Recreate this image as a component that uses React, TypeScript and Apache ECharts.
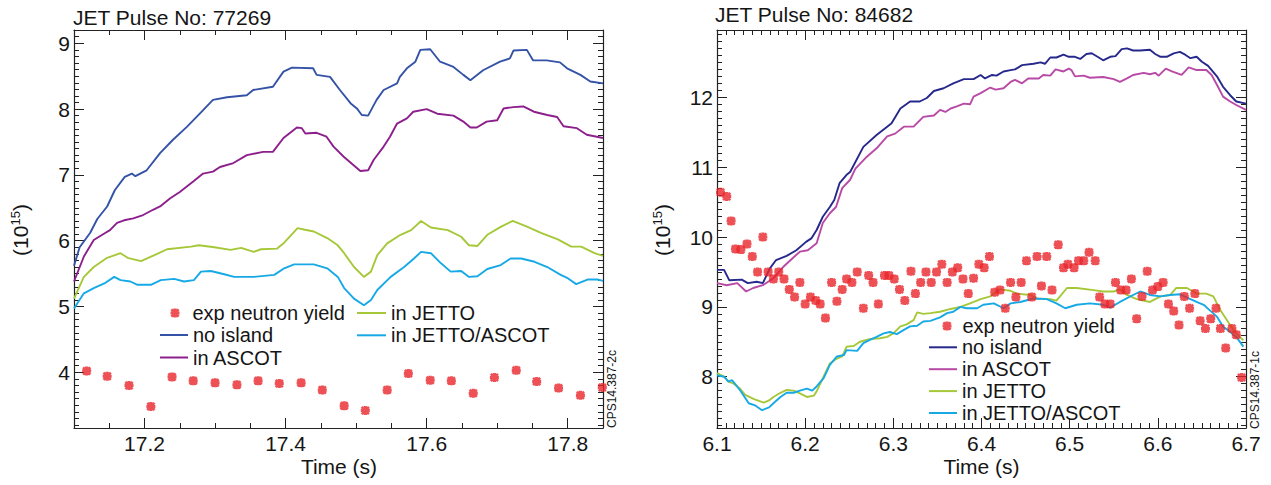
import React, { useEffect, useRef } from "react";
import * as echarts from "echarts";

const FONT = '"Liberation Sans", Arial, Helvetica, sans-serif';

// ---------- JET Pulse No: 77269 (left) ----------
const leftTitle = "JET Pulse No: 77269";
const leftXMajor = [17.2, 17.4, 17.6, 17.8];
const leftYMajor = [4, 5, 6, 7, 8, 9];

const leftExp: [number, number][] = [
  [17.118, 4.02], [17.147, 3.94], [17.178, 3.8], [17.209, 3.48], [17.239, 3.93], [17.269, 3.87],
  [17.3, 3.84], [17.331, 3.81], [17.361, 3.87], [17.391, 3.83], [17.422, 3.84], [17.452, 3.73],
  [17.483, 3.49], [17.513, 3.42], [17.544, 3.73], [17.574, 3.98], [17.605, 3.88], [17.635, 3.87],
  [17.666, 3.68], [17.696, 3.92], [17.727, 4.03], [17.756, 3.86], [17.787, 3.76], [17.818, 3.65],
  [17.849, 3.77],
];

const leftNoIsland: [number, number][] = [
  [17.1, 5.62], [17.108, 5.9], [17.123, 6.12], [17.133, 6.33], [17.147, 6.52], [17.158, 6.77],
  [17.172, 6.97], [17.182, 7.02], [17.187, 6.98], [17.203, 7.07], [17.222, 7.33], [17.24, 7.53],
  [17.26, 7.73], [17.279, 7.94], [17.297, 8.14], [17.317, 8.18], [17.345, 8.21], [17.354, 8.29],
  [17.382, 8.34], [17.397, 8.57], [17.409, 8.63], [17.439, 8.62], [17.444, 8.52], [17.463, 8.49],
  [17.477, 8.29], [17.492, 8.09], [17.501, 8.01], [17.508, 7.91], [17.517, 7.9], [17.529, 8.14],
  [17.539, 8.29], [17.558, 8.39], [17.562, 8.49], [17.572, 8.62], [17.584, 8.72], [17.591, 8.9],
  [17.605, 8.91], [17.619, 8.72], [17.638, 8.64], [17.652, 8.52], [17.662, 8.44], [17.68, 8.59],
  [17.704, 8.72], [17.718, 8.77], [17.723, 8.89], [17.742, 8.9], [17.751, 8.74], [17.77, 8.74],
  [17.789, 8.71], [17.799, 8.62], [17.818, 8.52], [17.832, 8.42], [17.85, 8.39],
];

const leftAscot: [number, number][] = [
  [17.1, 5.38], [17.114, 5.76], [17.128, 6.01], [17.143, 6.11], [17.151, 6.16], [17.161, 6.27],
  [17.171, 6.31], [17.184, 6.34], [17.198, 6.39], [17.212, 6.47], [17.222, 6.52], [17.236, 6.64],
  [17.25, 6.74], [17.269, 6.9], [17.283, 7.02], [17.297, 7.05], [17.307, 7.12], [17.326, 7.18],
  [17.345, 7.3], [17.368, 7.35], [17.382, 7.35], [17.397, 7.56], [17.411, 7.68], [17.416, 7.72],
  [17.423, 7.71], [17.428, 7.63], [17.444, 7.64], [17.458, 7.58], [17.468, 7.43], [17.482, 7.28],
  [17.496, 7.15], [17.506, 7.06], [17.517, 7.07], [17.525, 7.23], [17.539, 7.43], [17.548, 7.58],
  [17.558, 7.78], [17.572, 7.86], [17.581, 7.96], [17.6, 8.0], [17.615, 7.93], [17.638, 7.9],
  [17.652, 7.81], [17.662, 7.72], [17.671, 7.72], [17.685, 7.81], [17.7, 7.83], [17.709, 8.01],
  [17.723, 8.03], [17.737, 8.04], [17.752, 7.96], [17.771, 7.91], [17.785, 7.88], [17.794, 7.74],
  [17.813, 7.71], [17.827, 7.61], [17.85, 7.56],
];

const leftJetto: [number, number][] = [
  [17.1, 5.12], [17.114, 5.45], [17.128, 5.6], [17.147, 5.74], [17.166, 5.81], [17.176, 5.74],
  [17.195, 5.69], [17.214, 5.78], [17.232, 5.87], [17.266, 5.91], [17.277, 5.93], [17.299, 5.9],
  [17.322, 5.86], [17.337, 5.89], [17.355, 5.83], [17.365, 5.87], [17.388, 5.88], [17.398, 5.97],
  [17.417, 6.19], [17.426, 6.17], [17.44, 6.14], [17.459, 6.04], [17.474, 5.93], [17.483, 5.81],
  [17.497, 5.6], [17.511, 5.45], [17.521, 5.53], [17.53, 5.78], [17.544, 5.96], [17.563, 6.09],
  [17.578, 6.16], [17.592, 6.3], [17.606, 6.2], [17.63, 6.16], [17.649, 6.06], [17.66, 5.93],
  [17.672, 5.92], [17.686, 6.09], [17.705, 6.21], [17.722, 6.3], [17.743, 6.21], [17.762, 6.12],
  [17.786, 6.02], [17.805, 5.91], [17.819, 5.91], [17.838, 5.81], [17.85, 5.77],
];

const leftJettoAscot: [number, number][] = [
  [17.1, 4.97], [17.114, 5.2], [17.128, 5.28], [17.143, 5.35], [17.157, 5.45], [17.166, 5.4],
  [17.18, 5.38], [17.19, 5.33], [17.209, 5.33], [17.223, 5.4], [17.242, 5.42], [17.256, 5.38],
  [17.27, 5.4], [17.28, 5.53], [17.294, 5.54], [17.313, 5.49], [17.327, 5.45], [17.355, 5.45],
  [17.384, 5.48], [17.398, 5.58], [17.412, 5.64], [17.44, 5.64], [17.459, 5.58], [17.474, 5.45],
  [17.483, 5.28], [17.497, 5.12], [17.511, 5.02], [17.521, 5.1], [17.53, 5.25], [17.549, 5.45],
  [17.568, 5.6], [17.582, 5.73], [17.592, 5.83], [17.606, 5.81], [17.62, 5.66], [17.634, 5.53],
  [17.649, 5.54], [17.66, 5.45], [17.672, 5.46], [17.686, 5.57], [17.705, 5.63], [17.719, 5.73],
  [17.734, 5.73], [17.753, 5.68], [17.771, 5.6], [17.79, 5.48], [17.8, 5.43], [17.812, 5.34],
  [17.828, 5.41], [17.842, 5.41], [17.85, 5.39],
];

// ---------- JET Pulse No: 84682 (right) ----------
const rightTitle = "JET Pulse No: 84682";
const rightXMajor = [6.1, 6.2, 6.3, 6.4, 6.5, 6.6, 6.7];
const rightYMajor = [8, 9, 10, 11, 12];

const rightExp: [number, number][] = [
  [6.104, 10.64], [6.111, 10.58], [6.116, 10.23], [6.121, 9.83], [6.127, 9.82], [6.134, 9.9],
  [6.14, 9.72], [6.146, 9.5], [6.152, 10.0], [6.158, 9.5], [6.164, 9.4], [6.17, 9.5],
  [6.176, 9.4], [6.182, 9.25], [6.188, 9.14], [6.194, 9.35], [6.2, 9.04], [6.206, 9.14],
  [6.212, 9.09], [6.217, 9.04], [6.223, 8.84], [6.23, 9.35], [6.236, 9.08], [6.242, 9.25],
  [6.247, 9.4], [6.253, 9.35], [6.259, 9.5], [6.266, 8.98], [6.272, 9.45], [6.277, 9.35],
  [6.283, 9.04], [6.29, 9.45], [6.295, 9.45], [6.301, 9.4], [6.307, 9.25], [6.313, 9.09],
  [6.32, 9.51], [6.325, 9.19], [6.331, 9.35], [6.337, 9.5], [6.343, 9.35], [6.349, 9.5],
  [6.355, 9.61], [6.361, 9.35], [6.367, 9.5], [6.373, 9.56], [6.379, 9.4], [6.385, 9.19],
  [6.391, 9.41], [6.397, 9.61], [6.403, 9.56], [6.409, 9.72], [6.415, 9.21], [6.421, 9.24],
  [6.427, 8.98], [6.433, 9.35], [6.439, 9.14], [6.445, 9.35], [6.451, 9.66], [6.457, 9.14],
  [6.463, 9.72], [6.468, 9.3], [6.474, 9.72], [6.48, 9.24], [6.487, 9.89], [6.493, 9.56],
  [6.498, 9.61], [6.505, 9.56], [6.51, 9.66], [6.516, 9.66], [6.522, 9.78], [6.529, 9.66],
  [6.534, 9.14], [6.54, 9.04], [6.546, 9.04], [6.552, 9.35], [6.558, 9.24], [6.564, 9.24],
  [6.57, 9.4], [6.576, 8.83], [6.582, 9.15], [6.588, 9.51], [6.594, 9.24], [6.6, 9.29],
  [6.606, 9.35], [6.612, 9.04], [6.618, 8.94], [6.624, 8.74], [6.63, 9.15], [6.636, 8.98],
  [6.642, 9.19], [6.648, 8.8], [6.654, 8.69], [6.66, 8.83], [6.666, 8.98], [6.671, 8.69],
  [6.677, 8.41], [6.684, 8.69], [6.689, 8.6], [6.695, 7.99],
];

const rightNoIsland: [number, number][] = [
  [6.1, 9.53], [6.108, 9.53], [6.114, 9.38], [6.128, 9.39], [6.135, 9.34], [6.145, 9.36],
  [6.152, 9.34], [6.16, 9.55], [6.167, 9.67], [6.179, 9.73], [6.19, 9.81], [6.201, 9.93],
  [6.207, 9.98], [6.213, 10.1], [6.22, 10.29], [6.228, 10.43], [6.233, 10.53], [6.239, 10.77],
  [6.247, 10.89], [6.251, 10.93], [6.266, 11.29], [6.281, 11.46], [6.293, 11.58], [6.298, 11.63],
  [6.308, 11.84], [6.319, 11.94], [6.33, 11.94], [6.338, 11.99], [6.346, 12.09], [6.357, 12.13],
  [6.368, 12.2], [6.38, 12.26], [6.391, 12.26], [6.399, 12.32], [6.404, 12.27], [6.412, 12.32],
  [6.417, 12.31], [6.425, 12.37], [6.433, 12.39], [6.438, 12.4], [6.446, 12.46], [6.459, 12.48],
  [6.467, 12.5], [6.472, 12.48], [6.478, 12.57], [6.485, 12.57], [6.493, 12.61], [6.499, 12.58],
  [6.506, 12.58], [6.512, 12.55], [6.519, 12.62], [6.525, 12.63], [6.533, 12.57], [6.538, 12.53],
  [6.546, 12.58], [6.552, 12.59], [6.559, 12.69], [6.565, 12.7], [6.572, 12.67], [6.58, 12.67],
  [6.591, 12.68], [6.597, 12.62], [6.603, 12.58], [6.61, 12.58], [6.618, 12.63], [6.625, 12.65],
  [6.631, 12.61], [6.637, 12.56], [6.644, 12.58], [6.65, 12.51], [6.657, 12.45], [6.667, 12.3],
  [6.674, 12.15], [6.682, 12.03], [6.689, 11.94], [6.7, 11.91],
];

const rightAscot: [number, number][] = [
  [6.1, 9.34], [6.111, 9.31], [6.123, 9.34], [6.133, 9.22], [6.141, 9.27], [6.152, 9.31],
  [6.164, 9.41], [6.175, 9.57], [6.186, 9.7], [6.194, 9.79], [6.203, 9.81], [6.213, 9.91],
  [6.22, 10.2], [6.228, 10.34], [6.235, 10.43], [6.242, 10.7], [6.251, 10.82], [6.257, 10.98],
  [6.27, 11.15], [6.281, 11.27], [6.293, 11.44], [6.302, 11.48], [6.312, 11.58], [6.323, 11.58],
  [6.334, 11.72], [6.346, 11.74], [6.353, 11.82], [6.359, 11.79], [6.365, 11.84], [6.372, 11.87],
  [6.38, 11.91], [6.387, 11.9], [6.391, 12.01], [6.399, 12.06], [6.41, 12.14], [6.416, 12.11],
  [6.425, 12.13], [6.433, 12.22], [6.438, 12.25], [6.446, 12.2], [6.453, 12.27], [6.465, 12.27],
  [6.47, 12.32], [6.478, 12.31], [6.484, 12.4], [6.493, 12.37], [6.499, 12.41], [6.502, 12.39],
  [6.506, 12.3], [6.516, 12.31], [6.523, 12.28], [6.538, 12.29], [6.55, 12.26], [6.557, 12.22],
  [6.565, 12.27], [6.572, 12.32], [6.584, 12.35], [6.591, 12.33], [6.597, 12.35], [6.601, 12.31],
  [6.609, 12.41], [6.616, 12.37], [6.627, 12.32], [6.635, 12.43], [6.644, 12.39], [6.655, 12.39],
  [6.661, 12.32], [6.667, 12.18], [6.674, 12.01], [6.682, 11.94], [6.689, 11.89], [6.7, 11.82],
];

const rightJetto: [number, number][] = [
  [6.1, 8.05], [6.108, 8.0], [6.113, 7.93], [6.119, 7.9], [6.126, 7.83], [6.132, 7.74],
  [6.142, 7.68], [6.153, 7.63], [6.159, 7.66], [6.164, 7.71], [6.172, 7.77], [6.179, 7.81],
  [6.187, 7.8], [6.194, 7.76], [6.202, 7.71], [6.21, 7.73], [6.213, 7.79], [6.219, 7.95],
  [6.228, 8.19], [6.236, 8.26], [6.242, 8.29], [6.247, 8.43], [6.255, 8.44], [6.262, 8.5],
  [6.274, 8.54], [6.285, 8.55], [6.293, 8.57], [6.3, 8.62], [6.308, 8.72], [6.315, 8.75],
  [6.323, 8.81], [6.327, 8.92], [6.334, 8.9], [6.342, 8.91], [6.353, 8.93], [6.365, 8.97],
  [6.376, 9.0], [6.387, 9.05], [6.399, 9.11], [6.41, 9.15], [6.421, 9.25], [6.433, 9.23],
  [6.44, 9.19], [6.455, 9.17], [6.463, 9.12], [6.478, 9.11], [6.485, 9.09], [6.497, 9.27],
  [6.508, 9.27], [6.527, 9.24], [6.538, 9.22], [6.55, 9.22], [6.557, 9.25], [6.565, 9.17],
  [6.576, 9.11], [6.591, 9.07], [6.603, 9.15], [6.614, 9.17], [6.621, 9.27], [6.633, 9.27],
  [6.64, 9.22], [6.644, 9.19], [6.655, 9.19], [6.663, 9.15], [6.671, 8.95], [6.682, 8.74],
  [6.689, 8.62], [6.697, 8.52],
];

const rightJettoAscot: [number, number][] = [
  [6.1, 8.02], [6.108, 8.0], [6.113, 7.93], [6.117, 7.95], [6.126, 7.81], [6.136, 7.62],
  [6.143, 7.59], [6.151, 7.52], [6.159, 7.56], [6.164, 7.62], [6.172, 7.71], [6.179, 7.77],
  [6.187, 7.77], [6.194, 7.8], [6.202, 7.83], [6.208, 7.8], [6.213, 7.86], [6.221, 7.98],
  [6.228, 8.17], [6.236, 8.29], [6.244, 8.31], [6.247, 8.38], [6.259, 8.37], [6.266, 8.48],
  [6.274, 8.53], [6.281, 8.57], [6.289, 8.62], [6.296, 8.64], [6.304, 8.61], [6.312, 8.67],
  [6.319, 8.72], [6.327, 8.73], [6.334, 8.79], [6.342, 8.8], [6.353, 8.85], [6.361, 8.91],
  [6.368, 8.93], [6.376, 9.0], [6.383, 8.98], [6.395, 8.98], [6.402, 9.03], [6.414, 9.05],
  [6.425, 8.98], [6.433, 9.05], [6.444, 9.07], [6.459, 9.12], [6.474, 9.11], [6.485, 9.05],
  [6.495, 8.98], [6.508, 9.03], [6.523, 9.05], [6.538, 9.03], [6.546, 8.99], [6.557, 9.07],
  [6.572, 9.17], [6.58, 9.22], [6.591, 9.17], [6.603, 9.15], [6.614, 9.17], [6.625, 9.18],
  [6.637, 9.11], [6.644, 9.07], [6.652, 9.03], [6.659, 8.95], [6.667, 8.86], [6.674, 8.72],
  [6.682, 8.64], [6.689, 8.57], [6.697, 8.43],
];

const seriesNames = ["exp neutron yield", "no island", "in ASCOT", "in JETTO", "in JETTO/ASCOT"];

const C = {
  exp: "#e8262b",
  leftNo: "#3553a6",
  leftAscot: "#8c1f8c",
  rightNo: "#26288c",
  rightAscot: "#b84aa6",
  jetto: "#a6c838",
  jettoAscot: "#17a9e6",
  axis: "#222222",
  text: "#151515",
};

const MARK =
  "path://M0 2L2 0L5 3L8 0L10 2L7 5L10 8L8 10L5 7L2 10L0 8L3 5Z" +
  "M3.2 0H6.8V3.2H10V6.8H6.8V10H3.2V6.8H0V3.2H3.2Z";

function range(a: number, b: number, step: number): number[] {
  const out: number[] = [];
  const n = Math.round((b - a) / step);
  for (let i = 0; i <= n; i++) out.push(+(a + i * step).toFixed(4));
  return out;
}

function axis(
  gridIndex: number,
  position: string,
  min: number,
  max: number,
  ticks: number[],
  len: number,
  labelVals: number[] | null,
  digits: number,
  showLine: boolean
) {
  return {
    type: "value",
    gridIndex,
    position,
    min,
    max,
    axisLine: { show: showLine, onZero: false, lineStyle: { color: C.axis, width: 1.2 } },
    axisTick: {
      show: true,
      inside: true,
      length: len,
      customValues: ticks,
      lineStyle: { color: C.axis, width: 1 },
    },
    axisLabel: labelVals
      ? {
          show: true,
          customValues: labelVals,
          formatter: (v: number) => v.toFixed(digits),
          margin: position === "bottom" ? 5 : 4,
          fontSize: 21,
          fontFamily: FONT,
          color: C.text,
        }
      : { show: false },
    splitLine: { show: false },
  };
}

function panelAxes(
  g: number,
  xMin: number,
  xMax: number,
  xMajor: number[],
  xMinor: number[],
  xDigits: number,
  yMin: number,
  yMax: number,
  yMajor: number[],
  yMinor: number[]
) {
  const xs = [
    axis(g, "bottom", xMin, xMax, xMajor, 10, xMajor, xDigits, true),
    axis(g, "bottom", xMin, xMax, xMinor, 5, null, 0, false),
    axis(g, "top", xMin, xMax, xMajor, 10, null, 0, true),
    axis(g, "top", xMin, xMax, xMinor, 5, null, 0, false),
  ];
  const ys = [
    axis(g, "left", yMin, yMax, yMajor, 10, yMajor, 0, true),
    axis(g, "left", yMin, yMax, yMinor, 5, null, 0, false),
    axis(g, "right", yMin, yMax, yMajor, 10, null, 0, true),
    axis(g, "right", yMin, yMax, yMinor, 5, null, 0, false),
  ];
  return { xs, ys };
}

function lineSeries(name: string, data: [number, number][], color: string, idx: number) {
  return {
    name,
    type: "line",
    xAxisIndex: idx,
    yAxisIndex: idx,
    data,
    symbol: "none",
    lineStyle: { color, width: 1.9 },
    itemStyle: { color },
    z: 3,
  };
}

function scatterSeries(name: string, data: [number, number][], idx: number) {
  return {
    name,
    type: "scatter",
    xAxisIndex: idx,
    yAxisIndex: idx,
    data,
    symbol: MARK,
    symbolSize: 9,
    itemStyle: { color: C.exp },
    z: 4,
  };
}

const strip = (n: string) => n.slice(2);

function legend(
  names: string[],
  left: number,
  top: number,
  gap: number,
  w: number,
  h: number,
  pad: number,
  icon?: string
) {
  return {
    data: names.map((n) => (icon ? { name: n, icon } : { name: n })),
    orient: "vertical",
    left,
    top,
    padding: 0,
    itemGap: gap,
    itemWidth: w,
    itemHeight: h,
    selectedMode: false,
    formatter: strip,
    textStyle: {
      fontSize: 20,
      lineHeight: 20,
      fontFamily: FONT,
      color: C.text,
      padding: [0, 0, 0, pad],
    },
  };
}

function rotText(x: number, y: number, text: string, size: number) {
  return {
    type: "text",
    x,
    y,
    rotation: Math.PI / 2,
    style: { text, fontSize: size, fontFamily: FONT, fill: C.text, align: "center", verticalAlign: "middle" },
  };
}

function unitLabel(x: number, y: number) {
  return {
    type: "text",
    x,
    y,
    rotation: Math.PI / 2,
    style: {
      text: "{a|(10}{b|15}{a|)}",
      align: "center",
      verticalAlign: "middle",
      fill: C.text,
      rich: {
        a: { fontSize: 21, fontFamily: FONT, fill: C.text },
        b: { fontSize: 13, fontFamily: FONT, fill: C.text, padding: [0, 0, 10, 0] },
      },
    },
  };
}

function plainText(x: number, y: number, text: string, size: number, align: string) {
  return {
    type: "text",
    x,
    y,
    style: { text, fontSize: size, fontFamily: FONT, fill: C.text, align, verticalAlign: "middle" },
  };
}

export default function App() {
  const ref = useRef<HTMLDivElement>(null);

  useEffect(() => {
    if (!ref.current) return;
    const chart = echarts.init(ref.current, null, { renderer: "svg" });

    const L = panelAxes(
      0, 17.1, 17.85, leftXMajor, range(17.1, 17.85, 0.05), 1,
      3.1535, 9.202, leftYMajor, range(3.2, 9.2, 0.1)
    );
    const R = panelAxes(
      1, 6.1, 6.7, rightXMajor, range(6.1, 6.7, 0.01), 1,
      7.2656, 12.9636, rightYMajor, range(7.3, 12.9, 0.1)
    );

    const option: any = {
      animation: false,
      backgroundColor: "#ffffff",
      grid: [
        { left: 74, top: 30, width: 529, height: 398 },
        { left: 717, top: 30, width: 529, height: 398 },
      ],
      xAxis: [...L.xs, ...R.xs],
      yAxis: [...L.ys, ...R.ys],
      legend: [
        legend(["L-" + seriesNames[0]], 170.5, 303, 2, 9, 9, 8),
        legend(["L-" + seriesNames[1], "L-" + seriesNames[2]], 160, 325, 2.5, 28, 2, 0, "rect"),
        legend(["L-" + seriesNames[3], "L-" + seriesNames[4]], 357, 303, 2.3, 29, 2, 0, "rect"),
        legend(["R-" + seriesNames[0]], 942.5, 316, 2, 9, 9, 6),
        legend(
          ["R-" + seriesNames[1], "R-" + seriesNames[2], "R-" + seriesNames[3], "R-" + seriesNames[4]],
          929, 337.3, 1.9, 28, 2, 0, "rect"
        ),
      ],
      series: [
        lineSeries("L-" + seriesNames[1], leftNoIsland, C.leftNo, 0),
        lineSeries("L-" + seriesNames[2], leftAscot, C.leftAscot, 0),
        lineSeries("L-" + seriesNames[3], leftJetto, C.jetto, 0),
        lineSeries("L-" + seriesNames[4], leftJettoAscot, C.jettoAscot, 0),
        scatterSeries("L-" + seriesNames[0], leftExp, 0),
        lineSeries("R-" + seriesNames[1], rightNoIsland, C.rightNo, 4),
        lineSeries("R-" + seriesNames[2], rightAscot, C.rightAscot, 4),
        lineSeries("R-" + seriesNames[3], rightJetto, C.jetto, 4),
        lineSeries("R-" + seriesNames[4], rightJettoAscot, C.jettoAscot, 4),
        scatterSeries("R-" + seriesNames[0], rightExp, 4),
      ],
      graphic: [
        plainText(73, 17, leftTitle, 21, "left"),
        plainText(715, 14, rightTitle, 21, "left"),
        plainText(339, 466, "Time (s)", 21, "center"),
        plainText(981.5, 466, "Time (s)", 21, "center"),
        unitLabel(20, 230),
        unitLabel(662, 230),
        rotText(612, 389, "CPS14.387-2c", 12),
        rotText(1255, 390, "CPS14.387-1c", 12),
      ],
    };

    chart.setOption(option);
    return () => chart.dispose();
  }, []);

  return (
    <div
      ref={ref}
      style={{ position: "absolute", left: 0, top: 0, width: 1271, height: 485, background: "#fff" }}
    />
  );
}
